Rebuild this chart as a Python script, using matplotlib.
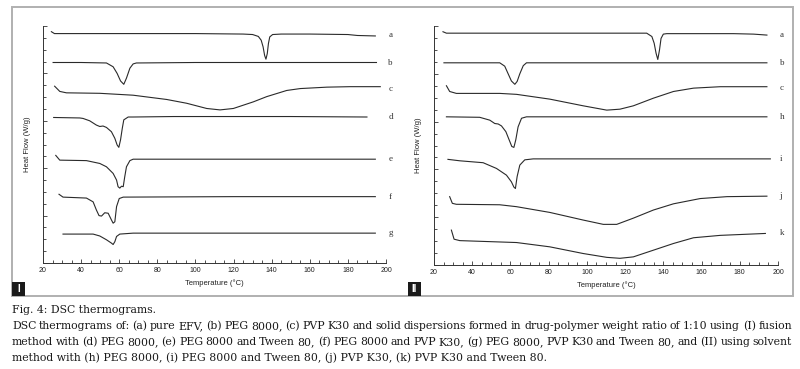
import matplotlib
matplotlib.use("Agg")
import matplotlib.pyplot as plt
from matplotlib.patches import Rectangle
from matplotlib.ticker import MultipleLocator

# DSC traces (temperature in degC, heat flow offset per curve, W/g)
# panel I: fusion method
t_I_a = [24.4, 26.0, 60, 100, 125, 130, 133, 134.5, 135.5, 136.3, 137.0, 137.7, 138.3, 139.0, 140.5, 145, 160, 180, 185, 194.4]
hf_I_a = [4.88, 4.84, 4.84, 4.84, 4.83, 4.82, 4.78, 4.70, 4.56, 4.38, 4.30, 4.42, 4.63, 4.77, 4.82, 4.83, 4.83, 4.82, 4.80, 4.79]
t_I_b = [25.3, 40, 53.3, 56.8, 58.9, 60.7, 62.4, 63.8, 65.6, 67.3, 69.0, 100, 150, 195]
hf_I_b = [4.23, 4.23, 4.22, 4.14, 4.00, 3.84, 3.77, 3.90, 4.11, 4.20, 4.22, 4.23, 4.23, 4.23]
t_I_c = [26.1, 28.8, 32.3, 49.8, 67.3, 84.9, 95.4, 105.9, 112.9, 119.9, 130.4, 137.4, 147.9, 155.0, 169.0, 181.2, 197.0]
hf_I_c = [3.73, 3.62, 3.59, 3.58, 3.54, 3.45, 3.37, 3.26, 3.23, 3.26, 3.40, 3.51, 3.64, 3.68, 3.71, 3.72, 3.72]
t_I_d = [25.6, 39.3, 41.0, 44.5, 48.0, 49.8, 51.5, 53.3, 55.9, 57.7, 58.9, 59.8, 60.7, 61.6, 62.4, 64.7, 67.3, 88.4, 150, 190]
hf_I_d = [3.07, 3.06, 3.05, 3.00, 2.91, 2.88, 2.89, 2.86, 2.77, 2.63, 2.49, 2.44, 2.60, 2.84, 3.02, 3.08, 3.08, 3.09, 3.09, 3.08]
t_I_e = [26.7, 28.8, 42.8, 49.8, 53.3, 56.8, 58.6, 59.4, 60.3, 61.2, 62.1, 62.9, 63.8, 65.6, 67.3, 120, 194.4]
hf_I_e = [2.27, 2.17, 2.16, 2.10, 2.03, 1.89, 1.75, 1.61, 1.58, 1.62, 1.61, 1.82, 2.03, 2.16, 2.19, 2.19, 2.19]
t_I_f = [28.4, 30.5, 42.8, 46.3, 48.0, 49.4, 50.7, 52.4, 54.2, 55.9, 56.8, 57.7, 58.6, 60.0, 62.1, 120, 194.4]
hf_I_f = [1.45, 1.39, 1.37, 1.29, 1.12, 1.00, 0.99, 1.06, 1.05, 0.91, 0.84, 0.87, 1.19, 1.36, 1.39, 1.40, 1.40]
t_I_g = [30.5, 46.3, 49.8, 53.3, 55.9, 56.8, 57.7, 58.6, 60.3, 67.3, 120, 194.4]
hf_I_g = [0.61, 0.61, 0.57, 0.49, 0.42, 0.39, 0.45, 0.56, 0.61, 0.63, 0.63, 0.63]

# panel II: solvent method
t_II_a = [24.7, 26.5, 80, 131.3, 134.0, 135.2, 136.2, 137.1, 138.0, 138.8, 140.0, 141.8, 176.8, 187.2, 194.2]
hf_II_a = [4.88, 4.85, 4.85, 4.85, 4.78, 4.64, 4.43, 4.30, 4.50, 4.74, 4.83, 4.84, 4.84, 4.83, 4.81]
t_II_b = [25.2, 54.4, 57.0, 58.8, 60.5, 62.3, 63.5, 64.9, 66.7, 68.4, 120, 194.2]
hf_II_b = [4.23, 4.23, 4.16, 4.00, 3.85, 3.78, 3.84, 4.00, 4.17, 4.23, 4.23, 4.23]
t_II_c = [26.5, 28.2, 31.7, 54.4, 63.2, 80.6, 98.1, 110.4, 117.3, 124.3, 134.8, 145.3, 155.8, 169.8, 194.2]
hf_II_c = [3.75, 3.63, 3.59, 3.59, 3.57, 3.47, 3.33, 3.24, 3.26, 3.33, 3.49, 3.63, 3.70, 3.73, 3.73]
t_II_h = [26.5, 43.9, 49.2, 51.8, 53.6, 55.3, 57.6, 59.3, 60.7, 61.8, 62.8, 64.0, 65.8, 68.4, 120, 194.2]
hf_II_h = [3.10, 3.09, 3.03, 2.96, 2.95, 2.91, 2.79, 2.62, 2.48, 2.46, 2.62, 2.89, 3.07, 3.10, 3.10, 3.10]
t_II_i = [27.3, 33.5, 45.7, 52.7, 57.9, 60.5, 61.8, 62.6, 63.5, 64.9, 67.5, 71.9, 130, 196.0]
hf_II_i = [2.21, 2.18, 2.14, 2.02, 1.88, 1.74, 1.63, 1.60, 1.85, 2.09, 2.20, 2.22, 2.22, 2.22]
t_II_j = [28.2, 29.6, 31.7, 54.4, 63.2, 80.6, 98.1, 108.6, 115.6, 124.3, 134.8, 145.3, 159.3, 173.3, 194.2]
hf_II_j = [1.43, 1.29, 1.27, 1.26, 1.22, 1.10, 0.94, 0.85, 0.85, 0.98, 1.15, 1.28, 1.39, 1.43, 1.44]
t_II_k = [29.1, 30.5, 33.5, 63.2, 80.6, 98.1, 110.4, 117.3, 124.3, 134.8, 145.3, 155.8, 169.8, 193.4]
hf_II_k = [0.73, 0.54, 0.51, 0.47, 0.38, 0.24, 0.16, 0.14, 0.17, 0.31, 0.45, 0.57, 0.62, 0.66]

labels_I = ["a", "b", "c", "d", "e", "f", "g"]
labels_II = ["a", "b", "c", "h", "i", "j", "k"]
label_hf_I = [4.81, 4.21, 3.68, 3.07, 2.19, 1.40, 0.63]
label_hf_II = [4.81, 4.23, 3.70, 3.09, 2.22, 1.44, 0.66]

curves_I = [(t_I_a, hf_I_a), (t_I_b, hf_I_b), (t_I_c, hf_I_c), (t_I_d, hf_I_d),
            (t_I_e, hf_I_e), (t_I_f, hf_I_f), (t_I_g, hf_I_g)]
curves_II = [(t_II_a, hf_II_a), (t_II_b, hf_II_b), (t_II_c, hf_II_c), (t_II_h, hf_II_h),
             (t_II_i, hf_II_i), (t_II_j, hf_II_j), (t_II_k, hf_II_k)]

caption_title = "Fig. 4: DSC thermograms."
caption_lines = [
    "DSC thermograms of: (a) pure EFV, (b) PEG 8000, (c) PVP K30 and solid dispersions formed in drug-polymer weight ratio of 1:10 using (I) fusion",
    "method with (d) PEG 8000, (e) PEG 8000 and Tween 80, (f) PEG 8000 and PVP K30, (g) PEG 8000, PVP K30 and Tween 80, and (II) using solvent",
    "method with (h) PEG 8000, (i) PEG 8000 and Tween 80, (j) PVP K30, (k) PVP K30 and Tween 80.",
]

W, H = 800, 369
fig = plt.figure(figsize=(W / 100, H / 100), dpi=100)


def fx(px):
    return px / W


def fy(py):
    return 1 - py / H


def draw_panel(rect, curves, labels, label_hf, label_t):
    ax = fig.add_axes(rect)
    for (t, hf) in curves:
        ax.plot(t, hf, color="#2a2a2a", lw=0.8)
    for lab, y in zip(labels, label_hf):
        ax.text(label_t, y, lab, fontsize=6.5, family="Liberation Serif",
                color="#333333", va="center", ha="left", clip_on=False)
    ax.set_xlim(20, 200)
    ax.set_ylim(0, 5)
    for s in ["top", "right"]:
        ax.spines[s].set_visible(False)
    for s in ["left", "bottom"]:
        ax.spines[s].set_linewidth(0.7)
        ax.spines[s].set_color("#333333")
    ax.xaxis.set_major_locator(MultipleLocator(20))
    ax.xaxis.set_minor_locator(MultipleLocator(5))
    ax.yaxis.set_major_locator(MultipleLocator(1))
    ax.yaxis.set_minor_locator(MultipleLocator(0.25))
    ax.tick_params(which="both", direction="in", width=0.6, color="#333333")
    ax.tick_params(which="major", length=3)
    ax.tick_params(which="minor", length=2)
    ax.tick_params(axis="x", labelsize=5, pad=3, labelcolor="#222222")
    ax.tick_params(axis="y", labelleft=False)
    for lab in ax.get_xticklabels():
        lab.set_family("Liberation Sans")
    ax.set_xlabel("Temperature (\u00b0C)", fontsize=5.5, family="Liberation Sans",
                  color="#222222", labelpad=4)
    ax.set_ylabel("Heat Flow (W/g)", fontsize=5.5, family="Liberation Sans",
                  color="#222222", labelpad=5)
    return ax


draw_panel([fx(43), fy(263), fx(386 - 43), fy(26) - fy(263)],
           curves_I, labels_I, label_hf_I, 201.2)
draw_panel([fx(434), fy(265), fx(778 - 434), fy(26) - fy(265)],
           curves_II, labels_II, label_hf_II, 200.8)

# outer frame and panel tags
fig.patches.append(Rectangle((fx(12), fy(296)), fx(793 - 12), fy(7) - fy(296),
                             transform=fig.transFigure, fill=False,
                             edgecolor="#b0b0b0", lw=1.4))
for x0, tag in [(12, "I"), (408, "II")]:
    fig.patches.append(Rectangle((fx(x0), fy(296)), fx(13), fy(282) - fy(296),
                                 transform=fig.transFigure, facecolor="#1a1a1a",
                                 edgecolor="none"))
    fig.text(fx(x0 + 6.5), fy(289), tag, color="white", fontsize=7, weight="bold",
             family="Liberation Sans", ha="center", va="center")

# caption, lines 2-3 justified to the frame width
cap_font = dict(fontsize=7.8, family="DejaVu Serif", color="#1a1a1a")
fig.text(fx(12), fy(313), caption_title, va="baseline", **cap_font)
renderer = fig.canvas.get_renderer()
left, right = 12, 792
for i, line in enumerate(caption_lines):
    yb = fy(329 + 16 * i)
    if i == len(caption_lines) - 1:
        fig.text(fx(left), yb, line, va="baseline", **cap_font)
        continue
    words = line.split(" ")
    texts = [fig.text(0, yb, w, va="baseline", **cap_font) for w in words]
    widths = [t.get_window_extent(renderer).width for t in texts]
    gap = max((right - left - sum(widths)) / (len(words) - 1), 1.5)
    x = left
    for t, w in zip(texts, widths):
        t.set_x(fx(x))
        x += w + gap

fig.savefig("out.png", dpi=100)
